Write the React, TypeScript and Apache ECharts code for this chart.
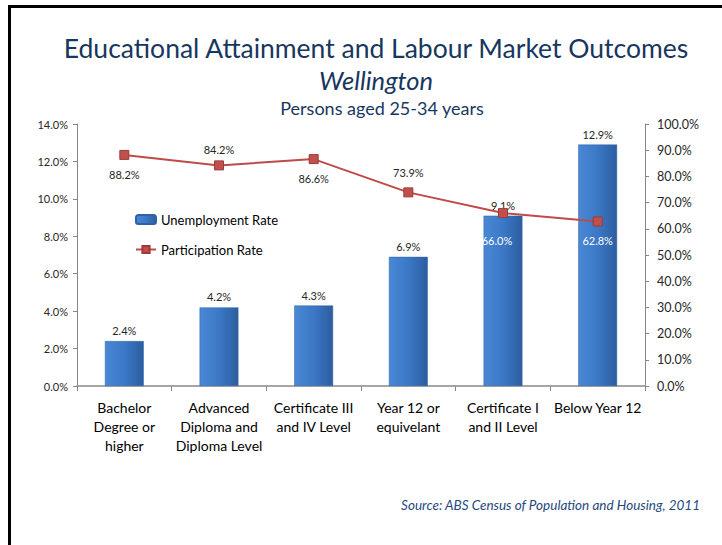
import React, { useEffect, useRef } from "react";
import * as echarts from "echarts";

const categories = [
  "Bachelor\nDegree or\nhigher",
  "Advanced\nDiploma and\nDiploma Level",
  "Certificate III\nand IV Level",
  "Year 12 or\nequivelant",
  "Certificate I\nand II Level",
  "Below Year 12",
];
const unemploymentRate = [2.4, 4.2, 4.3, 6.9, 9.1, 12.9];
const participationRate = [88.2, 84.2, 86.6, 73.9, 66.0, 62.8];
const participationLabelPos = ["bottom", "top", "bottom", "top", "bottom", "bottom"];
const participationLabelColor = ["#262626", "#262626", "#262626", "#262626", "#ffffff", "#ffffff"];

const FONT = "Lato, 'Noto Sans', sans-serif";
const NAVY = "#17375E";

export default function App() {
  const ref = useRef<HTMLDivElement>(null);
  useEffect(() => {
    if (!ref.current) return;
    const chart = echarts.init(ref.current, null, { renderer: "svg" });
    const barGrad = new echarts.graphic.LinearGradient(0, 0, 1, 0, [
      { offset: 0, color: "#4a88d6" },
      { offset: 0.5, color: "#3b78c6" },
      { offset: 1, color: "#2c5e9f" },
    ]);
    chart.setOption({
      animation: false,
      textStyle: { fontFamily: FONT },
      graphic: [
        { type: "rect", shape: { x: 8, y: 5, width: 3, height: 540 }, style: { fill: "#000" } },
        { type: "rect", shape: { x: 8, y: 5, width: 714, height: 3 }, style: { fill: "#000" } },
        {
          type: "text", x: 376, y: 48,
          style: { text: "Educational Attainment and Labour Market Outcomes", fontSize: 26.5, fontFamily: FONT, fill: NAVY, align: "center", verticalAlign: "middle" },
        },
        {
          type: "text", x: 376, y: 80,
          style: { text: "Wellington", fontSize: 25.5, fontStyle: "italic", fontFamily: FONT, fill: NAVY, align: "center", verticalAlign: "middle" },
        },
        {
          type: "text", x: 382, y: 108,
          style: { text: "Persons aged 25-34 years", fontSize: 18, fontFamily: FONT, fill: NAVY, align: "center", verticalAlign: "middle" },
        },
        {
          type: "text", x: 700, y: 505,
          style: { text: "Source: ABS Census of Population and Housing, 2011", fontSize: 13.5, fontStyle: "italic", fontFamily: FONT, fill: "#1F497D", align: "right", verticalAlign: "middle" },
        },
      ],
      legend: {
        orient: "vertical",
        left: 130,
        top: 208,
        itemGap: 17,
        itemWidth: 20,
        itemHeight: 9,
        textStyle: { fontSize: 13, color: "#000", fontFamily: FONT },
        data: ["Unemployment Rate", "Participation Rate"],
      },
      grid: { left: 77, right: 77, top: 124, bottom: 159, containLabel: false },
      xAxis: {
        type: "category",
        data: categories,
        axisLine: { lineStyle: { color: "#a6a6a6", width: 2 } },
        axisTick: { show: true, length: 5, lineStyle: { color: "#868686" } },
        axisLabel: { color: "#000", fontSize: 14, lineHeight: 19, margin: 12, interval: 0, fontFamily: FONT },
      },
      yAxis: [
        {
          type: "value", min: 0, max: 14, interval: 2,
          axisLine: { show: true, lineStyle: { color: "#868686" } },
          axisTick: { show: true, length: 4, lineStyle: { color: "#868686" } },
          splitLine: { show: false },
          axisLabel: { formatter: (v: number) => v.toFixed(1) + "%", color: "#262626", fontSize: 11, margin: 9, fontFamily: FONT },
        },
        {
          type: "value", min: 0, max: 100, interval: 10,
          axisLine: { show: true, lineStyle: { color: "#868686" } },
          axisTick: { show: true, length: 4, lineStyle: { color: "#868686" } },
          splitLine: { show: false },
          axisLabel: { formatter: (v: number) => v.toFixed(1) + "%", color: "#262626", fontSize: 12.5, margin: 12, fontFamily: FONT },
        },
      ],
      series: [
        {
          name: "Unemployment Rate",
          type: "bar",
          yAxisIndex: 0,
          barWidth: "41%",
          data: unemploymentRate,
          itemStyle: { color: barGrad, borderColor: "#2f62a3", borderWidth: 0.5 },
          label: { show: true, position: "top", distance: 5, formatter: (p: any) => p.value.toFixed(1) + "%", fontSize: 11, color: "#262626", fontFamily: FONT },
        },
        {
          name: "Participation Rate",
          type: "line",
          yAxisIndex: 1,
          symbol: "rect",
          symbolSize: 9,
          lineStyle: { color: "#be4b48", width: 2 },
          itemStyle: { color: "#c0504d", borderColor: "#9c3b38", borderWidth: 1 },
          data: participationRate.map((v, i) => ({
            value: v,
            label: {
              position: participationLabelPos[i],
              color: participationLabelColor[i],
              distance: i === 1 ? 5 : 9,
              offset: i === 4 ? [-6, 8] : [0, 0],
            },
          })),
          label: { show: true, distance: 9, formatter: (p: any) => p.value.toFixed(1) + "%", fontSize: 11, fontFamily: FONT },
        },
      ],
    });
    return () => chart.dispose();
  }, []);
  return <div ref={ref} style={{ position: "absolute", left: 0, top: 0, width: 722, height: 545 }} />;
}
